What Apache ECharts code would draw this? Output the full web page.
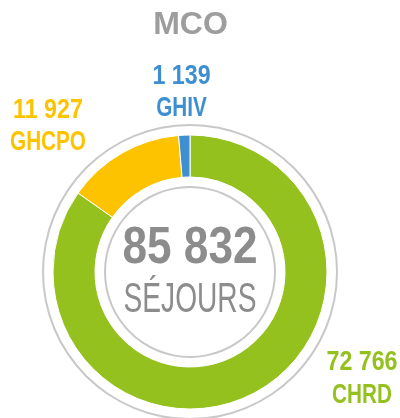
<!DOCTYPE html>
<html>
<head>
<meta charset="utf-8">
<script src="https://cdn.jsdelivr.net/npm/echarts@6/dist/echarts.min.js"></script>
<style>
  html, body { margin: 0; padding: 0; background: #fff; }
  #chart { width: 400px; height: 418px; }
</style>
</head>
<body>
<div id="chart"></div>
<script>
// data
const categories = ['CHRD', 'GHCPO', 'GHIV']
const sejours = [72766, 11927, 1139]
const colors = ['#95c11f', '#fdc300', '#3d8fd1']
const chartTitle = 'MCO'
const unitLabel = 'SÉJOURS'

const FONT = '"Liberation Sans", Arial, sans-serif'
const grey = '#c8c8c8'
const CX = 190, CY = 272

// where each slice's label block sits (centre of value line / name line)
const labelPos = [[362, 362, 395], [48, 110, 142], [181.5, 76, 108]]

function fmt(n) {
  return String(n).replace(/\B(?=(\d{3})+(?!\d))/g, ' ')
}

const total = sejours.reduce((a, b) => a + b, 0)

// the reference uses a condensed face; squeeze Liberation Sans horizontally
function txt(text, x, y, size, weight, color, sx) {
  return {
    type: 'text',
    x, y,
    scaleX: sx,
    silent: true,
    style: {
      text,
      fill: color,
      fontFamily: FONT,
      fontSize: size,
      fontWeight: weight,
      align: 'center',
      verticalAlign: 'middle',
      textAlign: 'center',
      textVerticalAlign: 'middle',
    },
  }
}

const labelEls = []
categories.forEach((name, i) => {
  const [x, yv, yn] = labelPos[i]
  labelEls.push(txt(fmt(sejours[i]), x, yv, 28, 'bold', colors[i], 0.83))
  labelEls.push(txt(name, x, yn, 28, 'bold', colors[i], 0.74))
})
labelEls.push(txt(fmt(total), CX, 249, 52, 'bold', '#8c8c8c', 0.85))
labelEls.push(txt(unitLabel, CX, 300, 42, 'normal', '#8c8c8c', 0.67))
labelEls.push(txt(chartTitle, 190.5, 25, 32, 'bold', '#9d9d9d', 1))

const chart = echarts.init(document.getElementById('chart'), null, { renderer: 'canvas' })

const ring = (r0, r1) => ({
  type: 'pie',
  silent: true,
  center: [CX, CY],
  radius: [r0, r1],
  label: { show: false },
  labelLine: { show: false },
  itemStyle: { color: grey },
  data: [1],
})

chart.setOption({
  animation: false,
  graphic: { elements: labelEls },
  series: [
    ring(146, 148),
    ring(84, 86),
    {
      type: 'pie',
      center: [CX, CY],
      radius: [95, 137],
      startAngle: 90,
      clockwise: true,
      silent: true,
      itemStyle: { borderColor: '#fff', borderWidth: 1 },
      label: { show: false },
      labelLine: { show: false },
      data: categories.map((name, i) => ({
        name,
        value: sejours[i],
        itemStyle: { color: colors[i] },
      })),
    },
  ],
})
</script>
</body>
</html>
